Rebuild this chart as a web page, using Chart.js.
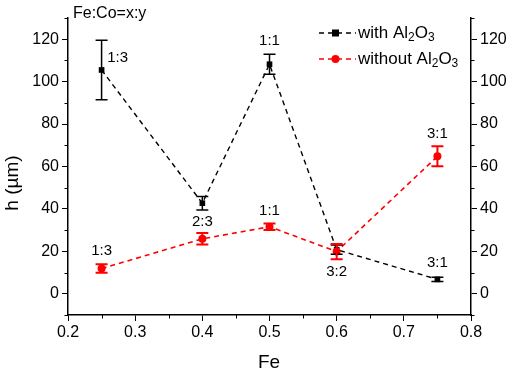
<!DOCTYPE html>
<html><head><meta charset="utf-8">
<script src="https://cdn.jsdelivr.net/npm/chart.js@4/dist/chart.umd.min.js"></script>
<style>html,body{margin:0;padding:0;background:#fff}#wrap{width:510px;height:373px}</style>
</head><body><div id="wrap"><canvas id="c" width="510" height="373"></canvas></div>
<script>
// ---- data ----
const feValues = [0.25, 0.4, 0.5, 0.6, 0.75];
const withAl = [105.5, 42.7, 108.2, 20.8, 6.8];
const withAlErr = [14.0, 3.2, 4.7, 2.2, 1.0];
const withoutAl = [11.9, 25.9, 31.6, 19.9, 64.8];
const withoutAlErr = [2.0, 2.7, 1.5, 3.6, 4.7];
const withLabels = ['1:3', '2:3', '1:1', '3:2', '3:1'];
const withoutLabels = ['1:3', '', '1:1', '', '3:1'];
const xTickValues = [0.2, 0.3, 0.4, 0.5, 0.6, 0.7, 0.8];
const yTickValues = [0, 20, 40, 60, 80, 100, 120];
const yMinorValues = [-10, 10, 30, 50, 70, 90, 110, 130];
const xMinorValues = [0.25, 0.35, 0.45, 0.55, 0.65, 0.75];

// ---- styles ----
const FONT = 'Arial, "Liberation Sans", sans-serif';
const RED = '#ff0000';
const BLACK = '#000000';
// label offsets (px) relative to point: [dx, dy]
const withLabelOffsets = [[16, -12], [0, 19], [0, -23], [0, 22], [0, -17]];
const withoutLabelOffsets = [[0, -18], [0, 0], [0, -16], [0, 0], [0, -22]];

const toPts = (ys) => feValues.map((x, i) => ({x: x, y: ys[i]}));

const decorPlugin = {
  id: 'decor',
  afterDatasetsDraw(chart) {
    const ctx = chart.ctx;
    const xs = chart.scales.x, ys = chart.scales.y;
    const drawErr = (vals, errs, color, lw) => {
      ctx.save();
      ctx.strokeStyle = color; ctx.lineWidth = lw; ctx.setLineDash([]);
      vals.forEach((v, i) => {
        const px = xs.getPixelForValue(feValues[i]);
        const t = ys.getPixelForValue(v + errs[i]);
        const b = ys.getPixelForValue(v - errs[i]);
        ctx.beginPath();
        ctx.moveTo(px, t); ctx.lineTo(px, b);
        ctx.moveTo(px - 6, t); ctx.lineTo(px + 6, t);
        ctx.moveTo(px - 6, b); ctx.lineTo(px + 6, b);
        ctx.stroke();
      });
      ctx.restore();
    };
    drawErr(withAl, withAlErr, BLACK, 1.5);
    drawErr(withoutAl, withoutAlErr, RED, 2);

    // point labels
    ctx.save();
    ctx.font = '15px ' + FONT;
    ctx.fillStyle = BLACK;
    ctx.textAlign = 'center'; ctx.textBaseline = 'middle';
    const drawLabels = (vals, labels, offs) => {
      vals.forEach((v, i) => {
        if (!labels[i]) return;
        const px = xs.getPixelForValue(feValues[i]) + offs[i][0];
        const py = ys.getPixelForValue(v) + offs[i][1];
        ctx.fillText(labels[i], px, py);
      });
    };
    drawLabels(withAl, withLabels, withLabelOffsets);
    drawLabels(withoutAl, withoutLabels, withoutLabelOffsets);
    ctx.restore();
  },
  afterDraw(chart) {
    const ctx = chart.ctx;
    const xs = chart.scales.x, ys = chart.scales.y;
    const area = chart.chartArea;
    // minor ticks
    ctx.save();
    ctx.strokeStyle = BLACK; ctx.lineWidth = 1;
    ctx.beginPath();
    yMinorValues.forEach(v => {
      const py = Math.round(ys.getPixelForValue(v)) + 0.5;
      ctx.moveTo(area.left - 3.5, py); ctx.lineTo(area.left, py);
      ctx.moveTo(area.right, py); ctx.lineTo(area.right + 3.5, py);
    });
    xMinorValues.forEach(v => {
      const px = Math.round(xs.getPixelForValue(v)) + 0.5;
      ctx.moveTo(px, area.bottom); ctx.lineTo(px, area.bottom + 3.5);
    });
    ctx.stroke();
    ctx.restore();

    // header text
    ctx.save();
    ctx.fillStyle = BLACK;
    ctx.font = '16px ' + FONT;
    ctx.textAlign = 'left'; ctx.textBaseline = 'middle';
    ctx.fillText('Fe:Co=x:y', 73, 14);

    // axis titles
    ctx.font = '19px ' + FONT;
    ctx.textAlign = 'center';
    ctx.fillText('Fe', 269, 363);
    ctx.save();
    ctx.translate(13, 183);
    ctx.rotate(-Math.PI / 2);
    ctx.fillText('h (\u00b5m)', 0, 0);
    ctx.restore();

    // legend
    const drawFormula = (prefix, x, y) => {
      ctx.textAlign = 'left'; ctx.textBaseline = 'middle';
      ctx.font = '17px ' + FONT;
      let cx = x;
      const parts = [[prefix + 'Al', false], ['2', true], ['O', false], ['3', true]];
      parts.forEach(([t, sub]) => {
        ctx.font = (sub ? '12px ' : '17px ') + FONT;
        ctx.fillText(t, cx, sub ? y + 5 : y);
        cx += ctx.measureText(t).width;
      });
    };
    const legendRows = [
      {text: 'with ', color: BLACK, y: 33, marker: 'rect'},
      {text: 'without ', color: RED, y: 59, marker: 'circle'}
    ];
    legendRows.forEach(r => {
      ctx.strokeStyle = r.color; ctx.fillStyle = r.color; ctx.lineWidth = 1.5;
      ctx.setLineDash([5, 4]);
      ctx.beginPath(); ctx.moveTo(319, r.y); ctx.lineTo(356, r.y); ctx.stroke();
      ctx.setLineDash([]);
      if (r.marker === 'rect') ctx.fillRect(332, r.y - 3.5, 7, 7);
      else { ctx.beginPath(); ctx.arc(335.5, r.y, 4, 0, Math.PI * 2); ctx.fill(); }
      ctx.fillStyle = BLACK;
      drawFormula(r.text, 358, r.y);
    });
    ctx.restore();
  }
};

const yScaleCommon = {
  type: 'linear', min: -10, max: 130,
  afterBuildTicks: (s) => { s.ticks = yTickValues.map(v => ({value: v})); },
  ticks: {color: BLACK, font: {size: 16, family: FONT}, padding: 3},
  grid: {drawOnChartArea: false, drawTicks: true, tickLength: 6, color: BLACK, tickWidth: 1},
  border: {display: true, color: BLACK, width: 1.5}
};

new Chart(document.getElementById('c'), {
  type: 'line',
  data: {
    datasets: [
      {
        label: 'with Al2O3', data: toPts(withAl), order: 2,
        borderColor: BLACK, backgroundColor: BLACK, borderWidth: 1.4, borderDash: [5, 4],
        pointStyle: 'rect', pointRadius: 4, pointBorderWidth: 0, fill: false, tension: 0
      },
      {
        label: 'without Al2O3', data: toPts(withoutAl), order: 1,
        borderColor: RED, backgroundColor: RED, borderWidth: 1.6, borderDash: [5, 4],
        pointStyle: 'circle', pointRadius: 4, pointBorderWidth: 0, fill: false, tension: 0
      }
    ]
  },
  options: {
    responsive: false, animation: false, devicePixelRatio: 1,
    layout: {padding: {top: 18, left: 0, right: 0, bottom: 0}},
    plugins: {legend: {display: false}, tooltip: {enabled: false}, title: {display: false}},
    scales: {
      x: {
        type: 'linear', min: 0.2, max: 0.8,
        afterBuildTicks: (s) => { s.ticks = xTickValues.map(v => ({value: v})); },
        afterFit: (s) => { s.height = 58; },
        ticks: {color: BLACK, font: {size: 16, family: FONT}, padding: 2, maxRotation: 0,
          callback: (v) => Number(v).toFixed(1)},
        grid: {drawOnChartArea: false, drawTicks: true, tickLength: 6, color: BLACK},
        border: {display: true, color: BLACK, width: 1.5}
      },
      y: Object.assign({}, yScaleCommon, {position: 'left', afterFit: (s) => { s.width = 68; }}),
      y2: Object.assign({}, yScaleCommon, {position: 'right', afterFit: (s) => { s.width = 39; }})
    }
  },
  plugins: [decorPlugin]
});
</script>
</body></html>
